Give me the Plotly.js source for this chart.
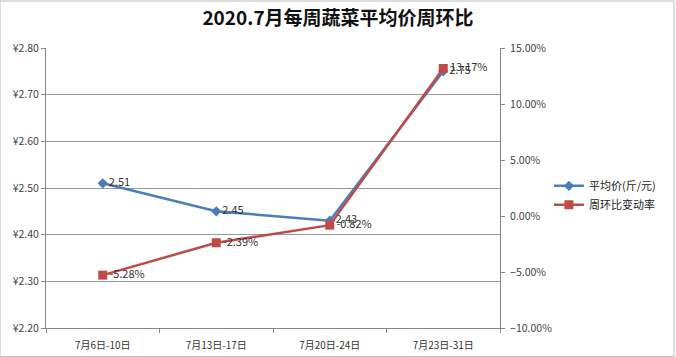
<!DOCTYPE html>
<html><head><meta charset="utf-8">
<script src="https://cdn.plot.ly/plotly-3.0.1.min.js"></script>
<style>html,body{margin:0;padding:0;background:#fff}#c{width:676px;height:357px}</style>
</head><body><div id="c"></div>
<script>
const categories = ['7月6日-10日', '7月13日-17日', '7月20日-24日', '7月23日-31日'];
const avgPrice = [2.51, 2.45, 2.43, 2.75];
const weekChange = [-5.28, -2.39, -0.82, 13.17];
const priceName = '平均价(斤/元)';
const changeName = '周环比变动率';
const titleText = '2020.7月每周蔬菜平均价周环比';

const font = 'Noto Sans CJK SC, Noto Sans, sans-serif';
const traces = [
  {x: categories, y: avgPrice, name: priceName, type: 'scatter', mode: 'lines+markers+text',
   line: {color: '#4A7EBB', width: 2.5}, marker: {symbol: 'diamond', size: 8, color: '#4A7EBB'},
   text: avgPrice.map(v => v.toFixed(2)), textposition: 'middle right',
   textfont: {family: font, size: 11, color: '#333'}, cliponaxis: false},
  {x: categories, y: weekChange, name: changeName, type: 'scatter', mode: 'lines+markers+text', yaxis: 'y2',
   line: {color: '#BE4B48', width: 2.5}, marker: {symbol: 'square', size: 9, color: '#BE4B48'},
   text: weekChange.map(v => v.toFixed(2) + '%'), textposition: 'middle right',
   textfont: {family: font, size: 11, color: '#333'}, cliponaxis: false}
];
const layout = {
  width: 676, height: 357,
  margin: {l: 46, r: 176, t: 48, b: 29, autoexpand: false},
  paper_bgcolor: '#fff', plot_bgcolor: '#fff',
  title: {text: '<b>' + titleText + '</b>', x: 0.5, xref: 'container', xanchor: 'center', y: 0.95, yanchor: 'middle',
          font: {family: font, size: 19, color: '#111'}},
  font: {family: font, size: 10, color: '#444'},
  showlegend: true,
  legend: {xref: 'container', yref: 'container', x: 0.812, y: 0.52, xanchor: 'left', yanchor: 'top',
           font: {family: font, size: 11, color: '#222'}, bgcolor: 'rgba(0,0,0,0)', tracegroupgap: 2},
  xaxis: {type: 'category', range: [-0.5, 3.5], tickson: 'boundaries', ticks: 'outside', ticklen: 4, tickcolor: '#888',
          ticklabelstandoff: 8, automargin: false,
          showline: true, linecolor: '#888', showgrid: false, tickfont: {size: 10, color: '#333'}},
  yaxis: {range: [2.2, 2.8], dtick: 0.1, tickprefix: '¥', tickformat: '.2f', showline: true, linecolor: '#888',
          ticks: 'outside', ticklen: 4, tickcolor: '#888', gridcolor: '#999', gridwidth: 1, zeroline: false,
          automargin: false, tickfont: {size: 10.5, color: '#444'}},
  yaxis2: {overlaying: 'y', side: 'right', range: [-10, 15], dtick: 5, ticksuffix: '%', tickformat: '.2f',
           showline: true, linecolor: '#888', ticks: 'outside', ticklen: 4, tickcolor: '#888', showgrid: false,
           zeroline: false, automargin: false, ticklabelstandoff: 3, tickfont: {size: 10.5, color: '#444'}},
  shapes: [{type: 'rect', xref: 'paper', yref: 'paper', x0: -46/454, x1: (676-46-2)/454, y0: -29/280 + 0.002, y1: (357-29-1)/280,
            line: {color: '#bbb', width: 1}}]
};
Plotly.newPlot('c', traces, layout, {displayModeBar: false, staticPlot: true});
</script></body></html>
